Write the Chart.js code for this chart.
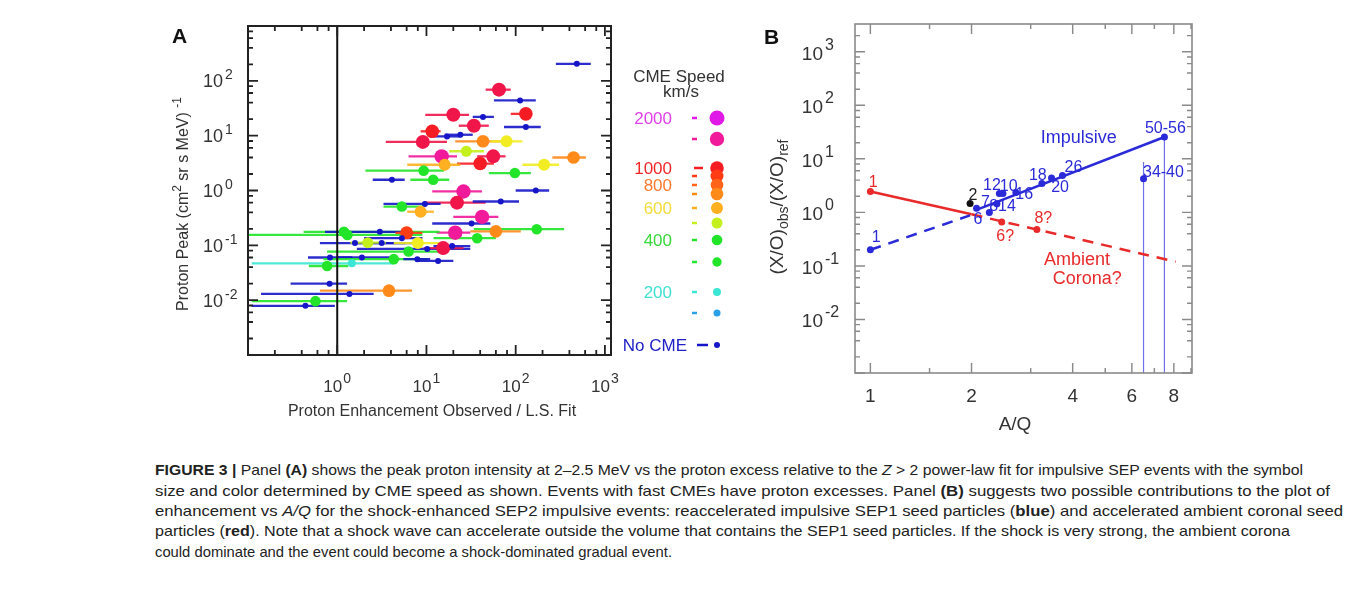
<!DOCTYPE html>
<html><head><meta charset="utf-8">
<script src="https://cdn.jsdelivr.net/npm/chart.js@4.4.0/dist/chart.umd.min.js"></script>
<style>
html,body{margin:0;padding:0;background:#fff;width:1354px;height:589px;overflow:hidden;font-family:"Liberation Sans",Arial,sans-serif;}
#cA{position:absolute;left:140px;top:0;}
#cB{position:absolute;left:745px;top:0;}
.cap{position:absolute;left:155px;height:20px;line-height:20px;white-space:nowrap;font-family:"Liberation Sans Narrow","Liberation Sans",Arial,sans-serif;font-size:15px;color:#222;transform-origin:0 50%;}
</style></head><body>
<canvas id="cA" width="600" height="440"></canvas>
<canvas id="cB" width="600" height="440"></canvas>
<div class="cap" style="top:460px" data-w="1148"><b>FIGURE 3 |</b> Panel <b>(A)</b> shows the peak proton intensity at 2–2.5 MeV vs the proton excess relative to the <i>Z</i> &gt; 2 power-law fit for impulsive SEP events with the symbol</div>
<div class="cap" style="top:481px" data-w="1175">size and color determined by CME speed as shown. Events with fast CMEs have proton excesses. Panel <b>(B)</b> suggests two possible contributions to the plot of</div>
<div class="cap" style="top:501px" data-w="1188">enhancement vs <i>A/Q</i> for the shock-enhanced SEP2 impulsive events: reaccelerated impulsive SEP1 seed particles (<b>blue</b>) and accelerated ambient coronal seed</div>
<div class="cap" style="top:521px" data-w="1135">particles (<b>red</b>). Note that a shock wave can accelerate outside the volume that contains the SEP1 seed particles. If the shock is very strong, the ambient corona</div>
<div class="cap" style="top:542px" data-w="517">could dominate and the event could become a shock-dominated gradual event.</div>
<script>
// ---------------- Panel A data ----------------
const enhancement = [484,65,112,130,20,43,130,34,11.6,24,17,9.1,43,79,28,14.8,56,40,16,445,208,9.3,98,11.9,4.1,168,26,22,68,5.3,9.6,8.6,42,32,172,60,21,1.19,1.3,3.0,6.0,1.58,3.15,8.0,2.2,10.2,15.4,19.4,6.3,0.83,1.89,0.77,1.46,4.3,7.9,13.5,0.82,1.37,3.8,0.57,0.44,37,5.3];
const protonPeak  = [204,69,44,25,24,22,14.4,15.2,12,10.4,9.7,7.7,7.9,7.9,5.2,4.2,4.2,3.1,2.95,4.0,2.95,2.3,2.08,1.57,1.57,1.0,0.96,0.60,0.63,0.51,0.57,0.41,0.33,0.25,0.197,0.18,0.17,0.176,0.155,0.176,0.169,0.11,0.11,0.11,0.112,0.086,0.089,0.097,0.077,0.060,0.060,0.042,0.047,0.056,0.056,0.052,0.020,0.013,0.0149,0.0096,0.0079,0.135,0.135];
const enhLow      = [282,46,57,88,9.7,33,74,23,8.6,16,12,3.5,21,52,18,6.3,37,22,6.1,258,119,2.07,50,6.6,2.5,100,11.6,9.3,33,3.3,3.3,6.1,20,11.6,34,31,13,0.42,0.1,0.73,4.5,0.64,1.5,4.3,1.4,1.66,9.3,12,0.77,0.47,1.0,0.48,0.11,0.70,5.5,7.9,0.30,0.14,0.64,0.11,0.11,12,2];
const enhHigh     = [695,88,168,148,30,57,191,50,14.4,33,24,17,68,119,44,22,77,57,24,612,307,15.7,148,18,5.7,237,42,46,109,9.3,14.4,12.1,64,52,349,114,31,14,9,5.8,9,5.8,8,15.6,3.5,31,26,31,15.6,1.47,3.95,1.33,4.3,10.3,11,20,1.29,2.56,6.9,1.29,0.94,60,9];
const speedClass  = ['blue','crim','blue','red','crim','blue','blue','crim','red','blue','blue','crim','orange','yellow','ygreen','pink','crim','red','gold','orange','yellow','green','green','green','blue','blue','pink','crim','blue','green','blue','gold','pink','blue','green','orange','pink','green','green','blue','ored','blue','blue','yellow','ygreen','blue','crim','blue','green','blue','blue','green','cyan','green','blue','blue','blue','blue','orange','green','blue','green','blue'];
const xTickExpA = [0,1,2,3];
const yTickExpA = [-2,-1,0,1,2];
const legendLabels = ['2000','','1000','','800','','600','','400','','200','','No CME'];
const legendClass  = ['magenta','pink','red','ored','orange2','orange','gold','ygreen','green','green2','cyan','lblue','blue'];

// ---------------- Panel B data ----------------
const impulsiveAQ    = [1.0,2.07,2.26,2.38,2.42,2.48,2.71,3.24,3.46,3.73,6.5,7.5];
const impulsiveRatio = [0.2,1.19,1.0,1.45,2.26,2.26,2.36,3.48,4.4,4.9,4.26,25.6];
const ambientAQ      = [1.0,2.46,3.13];
const ambientRatio   = [2.46,0.66,0.48];
const heliumAQ = [1.98], heliumRatio = [1.47];
const impFitAQ = [2.05,7.5],  impFitRatio = [1.09,25.6];
const impExtAQ = [1.0,1.98],  impExtRatio = [0.2,0.88];
const ambFitAQ = [1.0,2.0],   ambFitRatio = [2.46,0.92];
const ambExtAQ = [2.0,8.1],   ambExtRatio = [0.92,0.12];
const dropAQ = [6.5,7.5], dropTop = [8.7,25.6];
const bLabelText  = ['2','7','8','14','12','10','16','18','20','26','34-40','50-56','6','1','1','6?','8?','Impulsive','Ambient','Corona?'];
const bLabelAQ    = [2.02,2.2,2.33,2.55,2.3,2.58,2.87,3.15,3.67,4.02,7.45,7.55,2.09,1.04,1.02,2.52,3.27,4.17,4.12,4.42];
const bLabelRatio = [2.08,1.54,1.29,1.29,3.2,3.06,2.17,4.9,2.93,6.9,5.6,37,0.74,0.34,3.6,0.36,0.77,24,0.127,0.058];
const bLabelKind  = ['he','imp','imp','imp','imp','imp','imp','imp','imp','imp','imp','imp','imp','imp','amb','amb','amb','impT','ambT','ambT'];
const xTicksB = [1,1.5,2,3,4,5,6,7,8,9];
const xLabelsB = [1,2,4,6,8];
const yTickExpB = [-2,-1,0,1,2,3];

// ---------------- styles ----------------
const STY = {
  magenta:{c:'#e018e8',r:7.5,l:'#e040e8'}, pink:{c:'#f01a9a',r:7.2}, crim:{c:'#f0164a',r:7},
  red:{c:'#f51c24',r:6.8,l:'#f02828'}, ored:{c:'#ff3c14',r:6.5}, orange2:{c:'#ff6418',r:6.3,l:'#ff7a30'},
  orange:{c:'#ff8a1a',r:6.3}, gold:{c:'#ffb020',r:6,l:'#f2dc3a'}, yellow:{c:'#f2ec22',r:6},
  ygreen:{c:'#c4f01e',r:5.5}, green:{c:'#22e428',r:5.3,l:'#38d838'}, green2:{c:'#22e428',r:4.7},
  cyan:{c:'#3ce6d4',r:4,l:'#40e0d0'}, lblue:{c:'#2aa0e8',r:3.5}, blue:{c:'#1616c8',r:3,l:'#2020c8'}
};
const FONT = '"Liberation Sans", Arial, sans-serif';
const BLUE_B = '#2a2ad8', RED_B = '#e82a2a';

function logMarks(min, max, mults){
  const out = [];
  for (let d = Math.floor(Math.log10(min)) - 1; d <= Math.ceil(Math.log10(max)); d++)
    for (const m of mults){ const v = m*Math.pow(10,d); if (v >= min*0.999 && v <= max*1.001) out.push({v, major: m===1}); }
  return out;
}
function drawFrame(chart, color, lw, xm, ym, majL, minL){
  const {ctx, chartArea:a, scales:{x, y}} = chart;
  ctx.save(); ctx.strokeStyle = color; ctx.lineWidth = lw;
  ctx.strokeRect(a.left, a.top, a.right-a.left, a.bottom-a.top);
  ctx.lineWidth = lw*0.9; ctx.beginPath();
  for (const t of xm){ const p = x.getPixelForValue(t.v), L = t.major?majL:minL;
    ctx.moveTo(p, a.bottom); ctx.lineTo(p, a.bottom-L); ctx.moveTo(p, a.top); ctx.lineTo(p, a.top+L); }
  for (const t of ym){ const p = y.getPixelForValue(t.v), L = t.major?majL:minL;
    ctx.moveTo(a.left, p); ctx.lineTo(a.left+L, p); ctx.moveTo(a.right, p); ctx.lineTo(a.right-L, p); }
  ctx.stroke(); ctx.restore();
}
function drawParts(ctx, parts, x, y, align){
  // parts: [text, size, dy]
  let w = 0; for (const p of parts){ ctx.font = p[1]+'px '+FONT; w += ctx.measureText(p[0]).width; }
  let cx = align==='center' ? x - w/2 : x;
  ctx.textAlign = 'left';
  for (const p of parts){ ctx.font = (p[3]||'')+p[1]+'px '+FONT; ctx.fillText(p[0], cx, y + p[2]); cx += ctx.measureText(p[0]).width; }
}

// ---------------- Panel A ----------------
const errBars = {
  id:'errBars',
  beforeDatasetsDraw(chart){
    const {ctx, chartArea:a, scales:{x, y}} = chart;
    ctx.save(); ctx.beginPath(); ctx.rect(a.left, a.top, a.right-a.left, a.bottom-a.top); ctx.clip();
    ctx.lineWidth = 2.3; ctx.lineCap = 'butt';
    enhancement.forEach((v, i) => {
      const py = y.getPixelForValue(protonPeak[i]);
      ctx.strokeStyle = STY[speedClass[i]].c; ctx.globalAlpha = 0.9;
      ctx.beginPath(); ctx.moveTo(x.getPixelForValue(enhLow[i]), py); ctx.lineTo(x.getPixelForValue(enhHigh[i]), py); ctx.stroke();
    });
    ctx.globalAlpha = 1; ctx.strokeStyle = '#111'; ctx.lineWidth = 2;
    const p1 = x.getPixelForValue(1);
    ctx.beginPath(); ctx.moveTo(p1, a.top); ctx.lineTo(p1, a.bottom); ctx.stroke();
    ctx.restore();
  }
};
const frameA = {
  id:'frameA',
  afterDraw(chart){
    const {ctx, chartArea:a, scales:{x, y}} = chart;
    drawFrame(chart, '#222', 2, logMarks(0.1, 1170, [1,2,4,6,8]), logMarks(1e-3, 1e3, [1,2,4,6,8]), 10, 5);
    ctx.save(); ctx.fillStyle = '#333'; ctx.textBaseline = 'alphabetic';
    for (const e of yTickExpA){ const p = y.getPixelForValue(Math.pow(10,e));
      ctx.font = '18px '+FONT; ctx.textAlign = 'right'; ctx.fillText('10', a.left-25, p+6.5);
      ctx.font = '14px '+FONT; ctx.textAlign = 'left'; ctx.fillText(String(e), a.left-23, p-1.5); }
    for (const e of xTickExpA){ const p = x.getPixelForValue(Math.pow(10,e));
      ctx.font = '17px '+FONT; ctx.textAlign = 'right'; ctx.fillText('10', p+5, a.bottom+37);
      ctx.font = '14px '+FONT; ctx.textAlign = 'left'; ctx.fillText(String(e), p+6, a.bottom+28); }
    // titles
    ctx.font = '16px '+FONT; ctx.textAlign = 'center';
    ctx.fillText('Proton Enhancement Observed / L.S. Fit', 432-140, 416);
    ctx.save(); ctx.translate(188-140, 204); ctx.rotate(-Math.PI/2);
    drawParts(ctx, [['Proton Peak (cm',16,0],['2',12,-7],[' sr s MeV) ',16,0],['-1',12,-7]], 0, 0, 'center');
    ctx.restore();
    ctx.fillStyle = '#111'; ctx.font = 'bold 21px '+FONT; ctx.textAlign = 'left'; ctx.fillText('A', 172-140, 43);
    // legend
    const rowY = [118,139,168,176,185,194,208,223,240,262,292,313,345];
    ctx.fillStyle = '#333'; ctx.font = '17px '+FONT; ctx.textAlign = 'center';
    ctx.fillText('CME Speed', 679-140, 82); ctx.fillText('km/s', 681-140, 97);
    legendClass.forEach((c, i) => {
      const s = STY[c], yy = rowY[i];
      if (legendLabels[i]) { ctx.fillStyle = s.l || s.c; ctx.font = '17px '+FONT; ctx.textAlign = 'right';
        ctx.fillText(legendLabels[i], (i===12?687:672)-140, yy+6); }
      const dl = (i===2) ? [694,703] : (i===12 ? [697,708] : [692,697]);
      ctx.strokeStyle = s.c; ctx.lineWidth = 2.5; ctx.beginPath(); ctx.moveTo(dl[0]-140, yy); ctx.lineTo(dl[1]-140, yy); ctx.stroke();
      ctx.fillStyle = s.c; ctx.beginPath(); ctx.arc(717-140, yy, s.r, 0, Math.PI*2); ctx.fill();
    });
    ctx.restore();
  }
};
new Chart(document.getElementById('cA'), {
  type:'scatter',
  data:{datasets:[{
    data: enhancement.map((v,i)=>({x:v, y:protonPeak[i]})),
    backgroundColor: speedClass.map(c=>STY[c].c), borderWidth:0,
    pointRadius: speedClass.map(c=>STY[c].r), pointHoverRadius: speedClass.map(c=>STY[c].r)
  }]},
  options:{responsive:false, animation:false, events:[],
    layout:{padding:{left:108, right:129, top:26, bottom:85}},
    plugins:{legend:{display:false}, tooltip:{enabled:false}},
    scales:{x:{type:'logarithmic', min:0.1, max:1170, display:false},
            y:{type:'logarithmic', min:1e-3, max:1e3, display:false}}},
  plugins:[errBars, frameA]
});

// ---------------- Panel B ----------------
const pts = (xs, ys) => xs.map((v,i)=>({x:v, y:ys[i]}));
const frameB = {
  id:'frameB',
  afterDraw(chart){
    const {ctx, chartArea:a, scales:{x, y}} = chart;
    drawFrame(chart, '#8a8a8a', 1.6, xTicksB.map(v=>({v, major: xLabelsB.includes(v)})), logMarks(1e-3, 3300, [1,2,4,6,8]), 10, 5);
    ctx.save(); ctx.fillStyle = '#333';
    for (const e of yTickExpB){ const p = y.getPixelForValue(Math.pow(10,e));
      ctx.font = '19px '+FONT; ctx.textAlign = 'right'; ctx.fillText('10', a.left-32, p+8);
      ctx.font = '16px '+FONT; ctx.textAlign = 'left'; ctx.fillText(String(e), a.left-30, p-2); }
    ctx.font = '19px '+FONT; ctx.textAlign = 'center';
    for (const v of xLabelsB) ctx.fillText(String(v), x.getPixelForValue(v), a.bottom+29);
    ctx.fillText('A/Q', 1015-745, 430);
    ctx.save(); ctx.translate(783-745, 207); ctx.rotate(-Math.PI/2);
    drawParts(ctx, [['(X/O)',19,0],['obs',14,5],['/(X/O)',19,0],['ref',14,5]], 0, 0, 'center');
    ctx.restore();
    ctx.fillStyle = '#111'; ctx.font = 'bold 21px '+FONT; ctx.textAlign = 'left'; ctx.fillText('B', 764-745, 44);
    // point labels
    ctx.textAlign = 'center'; ctx.textBaseline = 'middle';
    bLabelText.forEach((t, i) => {
      const k = bLabelKind[i];
      ctx.fillStyle = k==='he' ? '#222' : (k.startsWith('imp') ? BLUE_B : RED_B);
      ctx.font = (k.endsWith('T') ? '18px ' : '16px ') + FONT;
      ctx.fillText(t, x.getPixelForValue(bLabelAQ[i]), y.getPixelForValue(bLabelRatio[i]));
    });
    ctx.restore();
  }
};
new Chart(document.getElementById('cB'), {
  type:'scatter',
  data:{datasets:[
    {data: pts(impulsiveAQ, impulsiveRatio), backgroundColor: BLUE_B, borderWidth:0, pointRadius:3.5, showLine:false},
    {data: pts(ambientAQ, ambientRatio), backgroundColor: RED_B, borderWidth:0, pointRadius:3.5, showLine:false},
    {data: pts(heliumAQ, heliumRatio), backgroundColor: '#111', borderWidth:0, pointRadius:3.5, showLine:false},
    {data: pts(impFitAQ, impFitRatio), showLine:true, borderColor: BLUE_B, borderWidth:2.5, pointRadius:0},
    {data: pts(impExtAQ, impExtRatio), showLine:true, borderColor: BLUE_B, borderWidth:2.5, borderDash:[11,8], pointRadius:0},
    {data: pts(ambFitAQ, ambFitRatio), showLine:true, borderColor: RED_B, borderWidth:2.5, pointRadius:0},
    {data: pts(ambExtAQ, ambExtRatio), showLine:true, borderColor: RED_B, borderWidth:2.5, borderDash:[11,8], pointRadius:0},
    {data: [{x:dropAQ[0], y:dropTop[0]}, {x:dropAQ[0], y:1e-3}], showLine:true, borderColor:'#7070e8', borderWidth:1.2, pointRadius:0},
    {data: [{x:dropAQ[1], y:dropTop[1]}, {x:dropAQ[1], y:1e-3}], showLine:true, borderColor:'#7070e8', borderWidth:1.2, pointRadius:0}
  ]},
  options:{responsive:false, animation:false, events:[],
    layout:{padding:{left:110, right:153, top:24, bottom:67}},
    plugins:{legend:{display:false}, tooltip:{enabled:false}},
    scales:{x:{type:'logarithmic', min:0.9, max:9.06, display:false},
            y:{type:'logarithmic', min:1e-3, max:3300, display:false}}},
  plugins:[frameB]
});

// fit caption lines to the reference widths
document.querySelectorAll('.cap').forEach(el => {
  const w = el.getBoundingClientRect().width, t = +el.dataset.w;
  el.style.transform = 'scaleX(' + (t / w) + ')';
});
</script>
</body></html>
